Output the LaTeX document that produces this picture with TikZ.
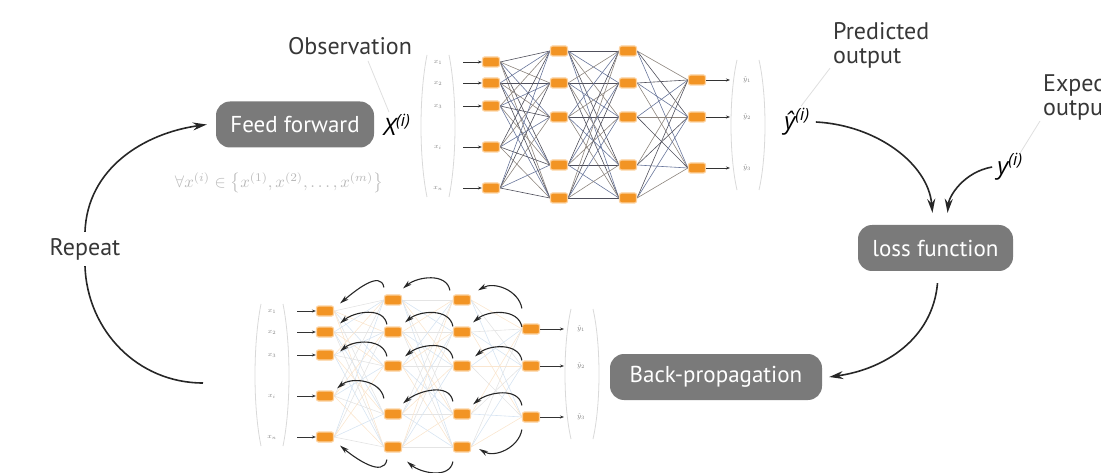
\documentclass[tikz,border=0pt]{standalone}
\usepackage{fontspec}
\setmainfont{PT Sans}
\newfontfamily\mlabfont{Open Sans}
\usepackage{graphicx}
\usetikzlibrary{arrows.meta,backgrounds}
\definecolor{nodeor}{RGB}{242,148,36}
\definecolor{halo}{RGB}{252,210,160}
\definecolor{boxgray}{RGB}{122,122,122}
\definecolor{txtgray}{RGB}{55,55,55}
\definecolor{te0}{RGB}{80,80,92}
\definecolor{te1}{RGB}{105,118,155}
\definecolor{te2}{RGB}{140,132,125}
\definecolor{be0}{RGB}{228,228,228}
\definecolor{be1}{RGB}{215,228,242}
\definecolor{be2}{RGB}{250,230,208}
\newcommand\drawnet[2]{%
  \foreach \y/\l [count=\i] in {-62/1,-83/2,-106/3,-147/i,-188/n}{
    \node[neuron] (#1a\i) at (491,\y) {};
    \node[inlab] (#1x\i) at (438,\y) {$x_{\l}$};
    \draw[inarrow] ([xshift=25pt]#1x\i.center) -- (#1a\i.west);
  }
  \foreach \y [count=\i] in {-51,-83,-117,-165,-198}{
    \node[neuron] (#1b\i) at (559,\y) {};
    \node[neuron] (#1c\i) at (628,\y) {};
  }
  \foreach \y/\l [count=\i] in {-80/1,-117/2,-168/3}{
    \node[neuron] (#1d\i) at (697,\y) {};
    \node[inlab] (#1y\i) at (747,\y) {$\hat y_{\l}$};
    \draw[inarrow] (#1d\i.east) -- ([xshift=-17pt]#1y\i.center);
  }
  \begin{scope}[on background layer]
    \foreach \i in {1,...,5}{
      \foreach \j in {1,...,5}{
        \pgfmathtruncatemacro\k{mod(\i+2*\j,3)}
        \edef\ecol{#2\k}
        \draw[line width=0.6pt, draw=\ecol] (#1a\i.east) -- (#1b\j.west);
        \pgfmathtruncatemacro\k{mod(2*\i+\j,3)}
        \edef\ecol{#2\k}
        \draw[line width=0.6pt, draw=\ecol] (#1b\i.east) -- (#1c\j.west);
      }
      \foreach \j in {1,2,3}{
        \pgfmathtruncatemacro\k{mod(\i+\j,3)}
        \edef\ecol{#2\k}
        \draw[line width=0.6pt, draw=\ecol] (#1c\i.east) -- (#1d\j.west);
      }
    }
  \end{scope}
  \draw[paren] (427,-55) .. controls (419,-95) and (419,-158) .. (427,-197);
  \draw[paren] (449,-55) .. controls (457,-95) and (457,-158) .. (449,-197);
  \draw[paren] (737,-60) .. controls (729,-95) and (729,-155) .. (737,-190);
  \draw[paren] (759,-60) .. controls (767,-95) and (767,-155) .. (759,-190);
}
\begin{document}
\begin{tikzpicture}[x=1pt,y=1pt,
  neuron/.style={rectangle, rounded corners=2pt, fill=nodeor, draw=halo, line width=1.2pt,
    minimum width=17pt, minimum height=10pt, inner sep=0pt},
  inlab/.style={font=\fontsize{7}{8}\selectfont, text=gray, inner sep=0pt},
  paren/.style={draw=gray!30, line width=0.8pt},
  proc/.style={fill=boxgray, text=white, rounded corners=14pt, minimum height=46pt,
    inner xsep=6pt, font=\fontsize{23}{26}\selectfont},
  lab/.style={text=txtgray, font=\fontsize{24}{24}\selectfont, inner sep=0pt},
  mathlab/.style={font=\mlabfont\fontsize{24}{26}\selectfont\itshape, inner sep=0pt},
  flow/.style={draw=black!85, line width=1.6pt, -{Stealth[length=14pt,width=8pt]}},
  thinflow/.style={draw=black!85, line width=1.6pt},
  barc/.style={draw=black!85, line width=1.1pt, -{Stealth[length=9pt,width=5pt]}},
  inarrow/.style={draw=black!80, line width=0.6pt, -{Stealth[length=4pt,width=3pt]}},
  leader/.style={draw=gray!25, line width=0.8pt}]
\useasboundingbox (0,0) rectangle (1101,-473);
\clip (0,0) rectangle (1101,-473);

% processing boxes
\node[proc, minimum width=158pt] (ff) at (295,-124.5) {Feed forward};
\node[proc, minimum width=155pt] (loss) at (935.5,-248) {loss function};
\node[proc, minimum width=212pt] (bp) at (716,-377) {Back-propagation};

% labels
\node[lab] (obs) at (350,-46) {Observation};
\node[lab, anchor=north west, align=left] (pred) at (833,-22) {Predicted\\output};
\node[lab, anchor=north west, align=left] (expt) at (1043,-75) {Expected\\output};
\node[lab] (rep) at (85,-249) {Repeat};
\node[mathlab] (X) at (397,-125) {X\textsuperscript{(i)}};
\node[mathlab] (yhat) at (797,-122) {ŷ\textsuperscript{(i)}};
\node[mathlab] (yexp) at (1010,-167) {y\textsuperscript{(i)}};
\node[text=gray!55, inner sep=0pt] (set) at (279,-183)
  {\resizebox{208pt}{!}{$\forall x^{(i)}\in\left\{x^{(1)},x^{(2)},\ldots,x^{(m)}\right\}$}};

% leader lines
\draw[leader] ([shift={(18pt,-6pt)}]obs.south) -- ([shift={(-8pt,2pt)}]X.north);
\draw[leader] ([xshift=-3pt]pred.south west) -- ([shift={(4pt,2pt)}]yhat.north);
\draw[leader] ([xshift=-3pt]expt.south west) -- ([xshift=10pt]yexp.north);

% networks
\drawnet{T}{te}
\begin{scope}[shift={(-166,-249)}]
  \drawnet{B}{be}
\end{scope}

% back-propagation arcs (bottom network)
\draw[barc] ([shift={(0pt,7pt)}]Bb1.north west) to[out=100,in=40] ([shift={(6pt,2pt)}]Ba1.north east);
\draw[barc] ([shift={(-3pt,4pt)}]Bc1.north west) to[out=100,in=40] ([shift={(1pt,6pt)}]Bb1.north east);
\draw[barc] ([shift={(0pt,15pt)}]Bd1.north west) to[out=100,in=30] ([shift={(7pt,4pt)}]Bc1.north east);
\draw[barc] ([shift={(3pt,2pt)}]Bb2.north west) to[out=100,in=40] ([shift={(6pt,3pt)}]Ba2.north east);
\draw[barc] ([shift={(0pt,0pt)}]Bc2.north west) to[out=100,in=40] ([shift={(3pt,4pt)}]Bb2.north east);
\draw[barc] ([shift={(0pt,2pt)}]Bd1.west) to[out=100,in=40] ([shift={(2pt,4pt)}]Bc2.north east);
\draw[barc] ([shift={(3pt,4pt)}]Bb3.north west) to[out=100,in=40] ([shift={(6pt,-2pt)}]Ba3.north east);
\draw[barc] ([shift={(0pt,2pt)}]Bc3.north west) to[out=100,in=40] ([shift={(3pt,4pt)}]Bb3.north east);
\draw[barc] ([shift={(0pt,0pt)}]Bd2.north west) to[out=100,in=40] ([shift={(4pt,4pt)}]Bc3.north east);
\draw[barc] ([shift={(0pt,10pt)}]Bb4.north west) to[out=100,in=40] ([shift={(3pt,2pt)}]Ba4.north east);
\draw[barc] ([shift={(0pt,7pt)}]Bc4.north west) to[out=100,in=40] ([shift={(1pt,5pt)}]Bb4.north east);
\draw[barc] ([shift={(0pt,6pt)}]Bd3.north west) to[out=100,in=40] ([shift={(2pt,4pt)}]Bc4.north east);
\draw[barc] ([shift={(3pt,-7pt)}]Bb5.south west) to[out=-100,in=-40] ([shift={(6pt,-3pt)}]Ba5.south east);
\draw[barc] ([shift={(0pt,-9pt)}]Bc5.south west) to[out=-100,in=-40] ([shift={(5pt,-9pt)}]Bb5.south east);
\draw[barc] ([shift={(0pt,-7pt)}]Bd3.south west) to[out=-100,in=-30] ([shift={(8pt,-2pt)}]Bc5.east);

% main flow arrows
\coordinate (rstart) at (203,-383);
\draw[thinflow] (rstart) to[out=180,in=-88] ([yshift=-6pt]rep.south);
\draw[flow] ([yshift=6pt]rep.north) to[out=88,in=188] ([xshift=-9pt]ff.west);
\draw[flow, shorten >=12pt] ([xshift=6pt]yhat.east) to[out=-3,in=95] ([xshift=-2pt]loss.north);
\draw[flow, shorten >=12pt] ([xshift=-5pt]yexp.west) to[out=190,in=85] ([xshift=11pt]loss.north);
\draw[flow] ([shift={(2pt,-12pt)}]loss.south) to[out=-95,in=8] ([xshift=7pt]bp.east);
\end{tikzpicture}
\end{document}
